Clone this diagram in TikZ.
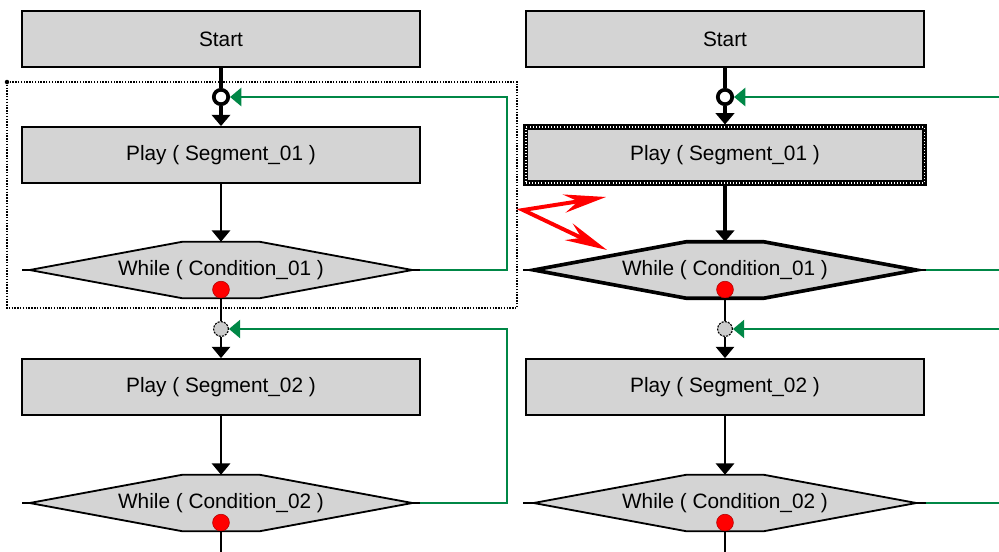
\documentclass[tikz,border=0pt]{standalone}
\usepackage{fontspec}
\setmainfont{Liberation Sans}
\usepackage{xcolor}
\usetikzlibrary{arrows.meta, positioning}

\definecolor{boxgrey}{RGB}{212,212,212}
\definecolor{loopgreen}{RGB}{0,135,70}
\definecolor{hitred}{RGB}{255,0,0}

\begin{document}
\begin{tikzpicture}[
  x=0.025cm, y=-0.025cm,
  font=\fontsize{14.8}{17}\selectfont,
  >={Triangle[width=13pt, length=8pt]},
  stepbox/.style={
    draw, line width=1.3pt, fill=boxgrey, inner sep=0pt,
    minimum width=9.95cm, minimum height=1.4cm
  },
  picked/.style={
    stepbox, line width=3.6pt,
    postaction={draw=white, line width=0.8pt, dash pattern=on 0.7pt off 1.5pt}
  },
  loopcond/.style={
    inner sep=0pt, minimum width=9.55cm, minimum height=1.4cm,
    append after command={
      \pgfextra{
        \draw[line width=#1, fill=boxgrey] (\tikzlastnode.west)
          -- ([xshift=-0.96cm]\tikzlastnode.north)
          -- ([xshift=0.96cm]\tikzlastnode.north)
          -- (\tikzlastnode.east)
          -- ([xshift=0.96cm]\tikzlastnode.south)
          -- ([xshift=-0.96cm]\tikzlastnode.south) -- cycle;
      }
    }
  },
  loopcond/.default=1.3pt,
  knotsel/.style={
    circle, draw, line width=2.6pt, fill=white, inner sep=0pt,
    minimum size=0.36cm
  },
  knot/.style={
    circle, draw, line width=0.8pt, dash pattern=on 1.5pt off 0.8pt,
    fill=gray!40, inner sep=0pt, minimum size=0.37cm
  },
  hit/.style={
    circle, fill=hitred, draw=red!70!black, line width=0.4pt,
    inner sep=0pt, minimum size=0.42cm
  },
  flow/.style={line width=1.3pt},
  thickflow/.style={line width=3.2pt},
  loopback/.style={draw=loopgreen, line width=1.3pt},
  note/.style={
    draw=hitred, line width=2.8pt, line join=miter,
    {Stealth[length=30pt, width=13pt, inset=10pt]}-{Stealth[length=30pt, width=13pt, inset=10pt]}
  },
  selbox/.style={line width=1pt, dash pattern=on 1pt off 1pt}
]
  \useasboundingbox (0,0) rectangle (999,552);

  % selection frame round the first loop
  \draw[selbox] (7,82) rectangle (517,308);
  \fill (7,82) circle[radius=1.6pt];

  % left column
  \node[stepbox] (start-a) at (221,39) {Start};
  \node[knotsel] (knot-a1) at (221,97) {};
  \node[stepbox] (play-a1) at (221,155) {Play ( Segment\_01 )};
  \node[loopcond] (cond-a1) at (221,270) {While ( Condition\_01 )};
  \node[hit, above=0pt of cond-a1.south] (hit-a1) {};
  \node[knot] (knot-a2) at (221,329) {};
  \node[stepbox] (play-a2) at (221,387) {Play ( Segment\_02 )};
  \node[loopcond] (cond-a2) at (221,503) {While ( Condition\_02 )};
  \node[hit, above=0pt of cond-a2.south] (hit-a2) {};
  \coordinate (exit-a) at (221,552);

  \draw[thickflow] (start-a) -- (knot-a1);
  \draw[thickflow, ->] (knot-a1) -- (play-a1);
  \draw[flow, ->] (play-a1) -- (cond-a1);
  \draw[flow] (cond-a1.west) -- ++(-8,0);
  \draw[flow] (cond-a1.east) -- ++(8,0) coordinate (tail-a1);
  \draw[loopback, ->] (tail-a1) -- ++(87,0) |- (knot-a1);
  \draw[flow] (cond-a1) -- (knot-a2);
  \draw[flow, ->] (knot-a2) -- (play-a2);
  \draw[flow, ->] (play-a2) -- (cond-a2);
  \draw[flow] (cond-a2.west) -- ++(-8,0);
  \draw[flow] (cond-a2.east) -- ++(8,0) coordinate (tail-a2);
  \draw[loopback, ->] (tail-a2) -- ++(87,0) |- (knot-a2);
  \draw[flow] (cond-a2) -- (exit-a);

  % right column, first step picked
  \node[stepbox] (start-b) at (725,39) {Start};
  \node[knotsel] (knot-b1) at (725,97) {};
  \node[picked] (play-b1) at (725,155) {Play ( Segment\_01 )};
  \node[loopcond=2.6pt] (cond-b1) at (725,270) {While ( Condition\_01 )};
  \node[hit, above=0pt of cond-b1.south] (hit-b1) {};
  \node[knot] (knot-b2) at (725,329) {};
  \node[stepbox] (play-b2) at (725,387) {Play ( Segment\_02 )};
  \node[loopcond] (cond-b2) at (725,503) {While ( Condition\_02 )};
  \node[hit, above=0pt of cond-b2.south] (hit-b2) {};
  \coordinate (exit-b) at (725,552);
  \coordinate (rim-b0) at (999,97);
  \coordinate (rim-b1) at (999,270);
  \coordinate (rim-b2) at (999,329);
  \coordinate (rim-b3) at (999,503);

  \draw[thickflow] (start-b) -- (knot-b1);
  \draw[thickflow, ->] (knot-b1) -- (play-b1);
  \draw[thickflow, ->] (play-b1) -- (cond-b1);
  \draw[flow] (cond-b1.west) -- ++(-11,0);
  \draw[flow] (cond-b1.east) -- ++(10,0) coordinate (tail-b1);
  \draw[loopback] (tail-b1) -- (rim-b1);
  \draw[loopback, ->] (rim-b0) -- (knot-b1);
  \draw[flow] (cond-b1) -- (knot-b2);
  \draw[flow, ->] (knot-b2) -- (play-b2);
  \draw[flow, ->] (play-b2) -- (cond-b2);
  \draw[flow] (cond-b2.west) -- ++(-11,0);
  \draw[flow] (cond-b2.east) -- ++(10,0) coordinate (tail-b2);
  \draw[loopback] (tail-b2) -- (rim-b3);
  \draw[loopback, ->] (rim-b2) -- (knot-b2);
  \draw[flow] (cond-b2) -- (exit-b);

  % red pointer between the two columns
  \coordinate (mark) at (523,210);
  \coordinate (mark-up) at (606,197);
  \coordinate (mark-dn) at (607,250);
  \draw[note] (mark-up) -- (mark) -- (mark-dn);
\end{tikzpicture}
\end{document}
